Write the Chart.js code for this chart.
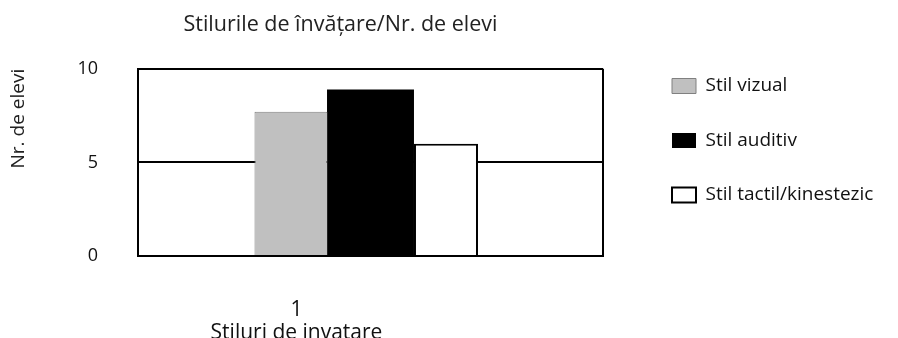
<!DOCTYPE html>
<html>
<head>
<meta charset="utf-8">
<script src="https://cdn.jsdelivr.net/npm/chart.js"></script>
<style>
  html, body { margin: 0; padding: 0; background: #fff; }
  #wrap { width: 898px; height: 338px; }
</style>
</head>
<body>
<div id="wrap"><canvas id="barChart"></canvas></div>
<script>
var categories = ["1"];
var vizual = [7.7];
var auditiv = [8.9];
var tactil = [6.0];
var yTicks = [0, 5, 10];

// nudges the title and legend to where the original had them
var nudge = {
  id: "nudge",
  afterLayout: function (chart) {
    var ca = chart.chartArea;
    var lg = chart.legend;
    chart.titleBlock.left = ca.left;
    chart.titleBlock.right = ca.right - 60;
    lg.left += 33.5;
    lg.right = chart.width;
    lg.top += 41;
    lg.bottom = chart.height;
  },
};

Chart.defaults.font.family = "'Open Sans', sans-serif";
Chart.defaults.color = "#111";

new Chart("barChart", {
  type: "bar",
  data: {
    labels: categories,
    datasets: [
      {
        label: "Stil vizual",
        data: vizual,
        backgroundColor: "#c0c0c0",
        borderColor: "#808080",
        borderWidth: 1,
        categoryPercentage: 0.513,
        barPercentage: 0.918,
      },
      {
        label: "Stil auditiv",
        data: auditiv,
        backgroundColor: "#000000",
        borderColor: "#000000",
        borderWidth: 0,
        categoryPercentage: 0.561,
        barPercentage: 1,
      },
      {
        label: "Stil tactil/kinestezic",
        data: tactil,
        backgroundColor: "#ffffff",
        borderColor: "#000000",
        borderWidth: 2,
        categoryPercentage: 0.487,
        barPercentage: 0.848,
      },
    ],
  },
  plugins: [nudge],
  options: {
    responsive: true,
    maintainAspectRatio: false,
    animation: false,
    layout: { padding: { left: 5, right: 60, top: 0, bottom: 0 } },
    plugins: {
      title: {
        display: true,
        text: "Stilurile de învățare/Nr. de elevi",
        font: { size: 21.5, weight: "normal" },
        color: "#222",
        padding: { top: 12, bottom: 31 },
      },
      legend: {
        display: true,
        position: "right",
        align: "start",
        maxWidth: 235,
        labels: {
          boxWidth: 24,
          boxHeight: 15,
          padding: 35.5,
          font: { size: 19 },
          color: "#111",
        },
      },
      tooltip: { enabled: false },
    },
    scales: {
      x: {
        afterFit: function (s) { s.height = 82; },
        grid: { display: true, offset: true, color: "#000", lineWidth: 2, drawTicks: false },
        border: { display: true, color: "#000", width: 2 },
        ticks: {
          padding: 42,
          labelOffset: -74,
          font: { size: 21, lineHeight: 1.1 },
          callback: function (v, i) {
            return [categories[i], "Stiluri de invatare"];
          },
        },
      },
      y: {
        min: 0,
        max: 10,
        afterFit: function (s) { s.width = 133; },
        afterBuildTicks: function (s) {
          s.ticks = yTicks.map(function (v) { return { value: v }; });
        },
        grid: { color: "#000", lineWidth: 2, drawTicks: false },
        border: { display: true, color: "#000", width: 2 },
        ticks: { padding: 40, font: { size: 18 } },
        title: {
          display: true,
          text: "Nr. de elevi",
          align: "end",
          font: { size: 19 },
          color: "#222",
          padding: { top: 2, bottom: 4 },
        },
      },
    },
  },
});
</script>
</body>
</html>
